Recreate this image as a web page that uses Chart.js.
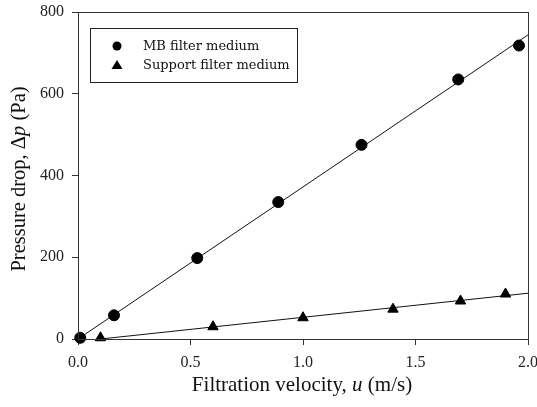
<!DOCTYPE html>
<html><head><meta charset="utf-8">
<script src="https://cdn.jsdelivr.net/npm/chart.js@4"></script>
<style>html,body{margin:0;padding:0;background:#fff}#wrap{width:537px;height:407px;position:relative}</style>
</head><body><div id="wrap"><canvas id="c" width="537" height="407"></canvas></div>
<script>
const mbX = [0.01, 0.16, 0.53, 0.89, 1.26, 1.69, 1.96];
const mbY = [3, 58, 198, 335, 475, 635, 718];
const supX = [0.10, 0.60, 1.00, 1.40, 1.70, 1.90];
const supY = [3, 30, 52, 73, 93, 110];
const mbFitX = [0.0, 2.0];
const mbFitY = [0, 744];
const supFitX = [0.1, 2.0];
const supFitY = [0, 112];
const xTicks = [0.0, 0.5, 1.0, 1.5, 2.0];
const yTicks = [0, 200, 400, 600, 800];
const seriesLabels = ['MB filter medium', 'Support filter medium'];

const pts = (xs, ys) => xs.map((x, i) => ({x, y: ys[i]}));

const frame = {
  id: 'frame',
  afterDraw(chart) {
    const {ctx, chartArea: a} = chart;
    ctx.save();
    ctx.strokeStyle = '#333';
    ctx.lineWidth = 1;
    ctx.strokeRect(a.left + 0.5, a.top + 0.5, a.right - a.left, a.bottom - a.top);
    // legend
    const lx = 90, ly = 28, lw = 207, lh = 54;
    ctx.fillStyle = '#fff';
    ctx.fillRect(lx, ly, lw, lh);
    ctx.strokeStyle = '#222';
    ctx.strokeRect(lx + 0.5, ly + 0.5, lw, lh);
    ctx.fillStyle = '#000';
    ctx.beginPath(); ctx.arc(117, 46, 4.5, 0, Math.PI * 2); ctx.fill();
    ctx.beginPath(); ctx.moveTo(117, 60); ctx.lineTo(122.5, 69); ctx.lineTo(111.5, 69); ctx.closePath(); ctx.fill();
    ctx.font = '13px "DejaVu Serif"';
    ctx.textBaseline = 'middle';
    ctx.textAlign = 'left';
    ctx.fillStyle = '#111';
    ctx.fillText(seriesLabels[0], 143, 47);
    ctx.fillText(seriesLabels[1], 143, 66);
    // axis titles
    const drawParts = (parts, cx, cy, rot) => {
      ctx.save();
      ctx.translate(cx, cy);
      ctx.rotate(rot);
      let total = 0;
      parts.forEach(p => { ctx.font = p[1]; total += ctx.measureText(p[0]).width; });
      let x = -total / 2;
      ctx.textBaseline = 'middle';
      ctx.textAlign = 'left';
      parts.forEach(p => { ctx.font = p[1]; ctx.fillText(p[0], x, 0); x += ctx.measureText(p[0]).width; });
      ctx.restore();
    };
    const n = '21px "Liberation Serif"', it = 'italic 21px "Liberation Serif"';
    const n2 = '20.5px "Liberation Serif"', it2 = 'italic 20.5px "Liberation Serif"';
    drawParts([['Filtration velocity, ', n], ['u', it], [' (m/s)', n]], 302, 385, 0);
    drawParts([['Pressure drop, \u0394', n2], ['p', it2], [' (Pa)', n2]], 20, 179, -Math.PI / 2);
    ctx.restore();
  }
};

new Chart(document.getElementById('c'), {
  type: 'scatter',
  data: {
    datasets: [
      {label: seriesLabels[0], data: pts(mbX, mbY), pointStyle: 'circle', pointRadius: 5.5, backgroundColor: '#000', borderColor: '#000', order: 1},
      {label: seriesLabels[1], data: pts(supX, supY), pointStyle: 'triangle', pointRadius: 6, backgroundColor: '#000', borderColor: '#000', order: 1},
      {type: 'line', data: pts(mbFitX, mbFitY), borderColor: '#111', borderWidth: 1, pointRadius: 0, fill: false, order: 2},
      {type: 'line', data: pts(supFitX, supFitY), borderColor: '#111', borderWidth: 1, pointRadius: 0, fill: false, order: 2}
    ]
  },
  options: {
    responsive: false,
    animation: false,
    clip: false,
    layout: {padding: {left: 0, right: 9, top: 12, bottom: 38}},
    plugins: {legend: {display: false}, tooltip: {enabled: false}},
    scales: {
      x: {
        type: 'linear', min: 0, max: 2,
        afterBuildTicks: s => { s.ticks = xTicks.map(v => ({value: v})); },
        afterFit: s => { s.height = 30; s.paddingRight = 0; s.paddingLeft = 0; },
        ticks: {font: {family: 'Liberation Serif', size: 16}, color: '#222', padding: 8, maxRotation: 0,
          callback: v => Number(v).toFixed(1)},
        grid: {drawOnChartArea: false, tickLength: 6, color: '#333'},
        border: {color: '#333'}
      },
      y: {
        type: 'linear', min: 0, max: 800,
        afterBuildTicks: s => { s.ticks = yTicks.map(v => ({value: v})); },
        afterFit: s => { s.width = 78; s.paddingTop = 0; s.paddingBottom = 0; },
        ticks: {font: {family: 'Liberation Serif', size: 16}, color: '#222', padding: 8},
        grid: {drawOnChartArea: false, tickLength: 6, color: '#333'},
        border: {color: '#333'}
      }
    }
  },
  plugins: [frame]
});
</script></body></html>
